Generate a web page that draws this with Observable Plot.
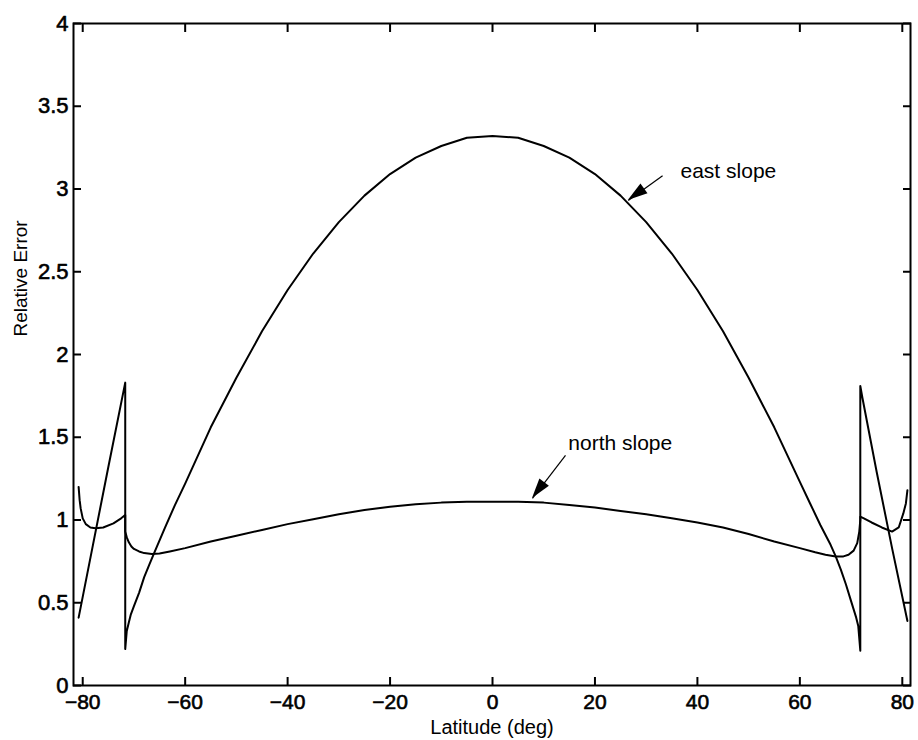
<!DOCTYPE html>
<html><head><meta charset="utf-8">
<script src="https://cdn.jsdelivr.net/npm/d3@7"></script>
<script src="https://cdn.jsdelivr.net/npm/@observablehq/plot@0.6"></script>
<style>
html,body{margin:0;padding:0;background:#fff;}
#chart svg{display:block;}
</style></head><body><div id="chart"></div>
<script>
// east slope relative error
const eastLat = [-80.8, -78, -75, -71.7, -71.7, -71.4, -71, -70.6, -70, -69, -68, -67, -66, -64, -62, -60, -55, -50, -45, -40, -35, -30, -25, -20, -15, -10, -5, 0, 5, 10, 15, 20, 25, 30, 35, 40, 45, 50, 55, 60, 62, 64, 66, 67, 68, 69, 70, 71, 71.4, 71.8, 71.8, 72.2, 75, 78, 81];
const eastVal = [0.41, 0.85, 1.32, 1.83, 0.22, 0.33, 0.38, 0.43, 0.48, 0.56, 0.655, 0.73, 0.805, 0.95, 1.09, 1.22, 1.56, 1.86, 2.14, 2.39, 2.61, 2.80, 2.96, 3.09, 3.19, 3.26, 3.31, 3.32, 3.31, 3.26, 3.19, 3.09, 2.96, 2.80, 2.61, 2.39, 2.14, 1.86, 1.56, 1.23, 1.10, 0.97, 0.85, 0.78, 0.70, 0.61, 0.51, 0.41, 0.36, 0.21, 1.81, 1.74, 1.29, 0.83, 0.39];
// north slope relative error
const northLat = [-80.8, -80.6, -80.4, -80, -79.4, -78.5, -77.5, -76, -74, -72.5, -71.7, -71.7, -71.4, -71, -70.5, -70, -69, -68, -66.5, -65, -63, -60, -55, -50, -45, -40, -35, -30, -25, -20, -15, -10, -5, 0, 5, 10, 15, 20, 25, 30, 35, 40, 45, 50, 55, 60, 63, 65, 67, 68.5, 69.5, 70.5, 71.2, 71.6, 71.8, 71.8, 72.5, 74, 76, 78, 79.3, 80.2, 80.7, 81];
const northVal = [1.2, 1.12, 1.07, 1.01, 0.975, 0.955, 0.95, 0.955, 0.98, 1.01, 1.03, 0.93, 0.895, 0.865, 0.84, 0.825, 0.81, 0.80, 0.795, 0.797, 0.81, 0.83, 0.87, 0.905, 0.94, 0.975, 1.005, 1.035, 1.06, 1.08, 1.095, 1.105, 1.11, 1.11, 1.11, 1.105, 1.09, 1.075, 1.055, 1.035, 1.01, 0.985, 0.955, 0.915, 0.87, 0.83, 0.805, 0.79, 0.78, 0.78, 0.79, 0.815, 0.86, 0.93, 1.0, 1.02, 1.01, 0.985, 0.955, 0.93, 0.955, 1.04, 1.1, 1.18];

const xTicks = [-80, -60, -40, -20, 0, 20, 40, 60, 80];
const yTicks = [0, 0.5, 1, 1.5, 2, 2.5, 3, 3.5, 4];

// annotations
const annLabels = ["east slope", "north slope"];
const annTextLat = [36.7, 14.8];
const annTextVal = [3.11, 1.462];
const annTailLat = [33.2, 14.25];
const annTailVal = [3.08, 1.39];
const annTipLat = [26.5, 7.8];
const annTipVal = [2.93, 1.13];

const east = eastLat.map((lat, i) => ({lat, val: eastVal[i]}));
const north = northLat.map((lat, i) => ({lat, val: northVal[i]}));
const ann = annLabels.map((label, i) => ({
  label, tx: annTextLat[i], ty: annTextVal[i],
  x1: annTailLat[i], y1: annTailVal[i], x2: annTipLat[i], y2: annTipVal[i]
}));

const font = '"Liberation Sans", Arial, Helvetica, sans-serif';

const heads = (index, scales) => {
  const g = d3.create("svg:g").attr("fill", "black");
  ann.forEach(d => {
    const x1 = scales.x(d.x1), y1 = scales.y(d.y1);
    const x2 = scales.x(d.x2), y2 = scales.y(d.y2);
    const dx = x2 - x1, dy = y2 - y1, L = Math.hypot(dx, dy);
    const ux = dx / L, uy = dy / L;
    const h = 20, w = 6;
    const bx = x2 - ux * h, by = y2 - uy * h;
    g.append("path").attr("d",
      `M${x2},${y2}L${bx - uy * w},${by + ux * w}L${bx + uy * w},${by - ux * w}Z`);
  });
  return g.node();
};

const plot = Plot.plot({
  width: 918,
  height: 740,
  marginLeft: 73,
  marginRight: 8,
  marginTop: 23,
  marginBottom: 55,
  x: {domain: [-81.8, 81.6]},
  y: {domain: [0, 4]},
  style: {fontFamily: font, background: "white", color: "black"},
  marks: [
    Plot.line(east, {x: "lat", y: "val", stroke: "black", strokeWidth: 2}),
    Plot.line(north, {x: "lat", y: "val", stroke: "black", strokeWidth: 2}),
    // inward ticks on all four sides
    Plot.axisX({ticks: xTicks, anchor: "bottom", tickSize: -8, strokeWidth: 2, tickFormat: () => "", label: null}),
    Plot.axisX({ticks: xTicks, anchor: "top", tickSize: -8, strokeWidth: 2, tickFormat: () => "", label: null}),
    Plot.axisY({ticks: yTicks, anchor: "left", tickSize: -8, strokeWidth: 2, tickFormat: () => "", label: null}),
    Plot.axisY({ticks: yTicks, anchor: "right", tickSize: -8, strokeWidth: 2, tickFormat: () => "", label: null}),
    // tick labels
    Plot.axisX({ticks: xTicks, anchor: "bottom", tickSize: 0, tickPadding: 9, fontSize: 21,
      textStroke: "black", textStrokeWidth: 0.6,
      tickFormat: d => d < 0 ? "\u2212" + Math.abs(d) : String(d), label: null}),
    Plot.axisY({ticks: yTicks, anchor: "left", tickSize: 0, tickPadding: 5, fontSize: 22,
      textStroke: "black", textStrokeWidth: 0.6,
      tickFormat: d => String(d), label: null}),
    Plot.frame({stroke: "black", strokeWidth: 2}),
    // axis titles
    Plot.text(["Latitude (deg)"], {text: d => d, frameAnchor: "bottom", dy: 48, fontSize: 20, fill: "black"}),
    Plot.text(["Relative Error"], {text: d => d, frameAnchor: "left", rotate: -90, dx: -53, dy: -18, fontSize: 19, fill: "black"}),
    // annotations
    Plot.link(ann, {x1: "x1", y1: "y1", x2: "x2", y2: "y2", stroke: "black", strokeWidth: 1.2}),
    heads,
    Plot.text(ann, {x: "tx", y: "ty", text: "label", textAnchor: "start", fontSize: 21, fill: "black"})
  ]
});

document.getElementById("chart").appendChild(plot);
</script>
</body></html>
